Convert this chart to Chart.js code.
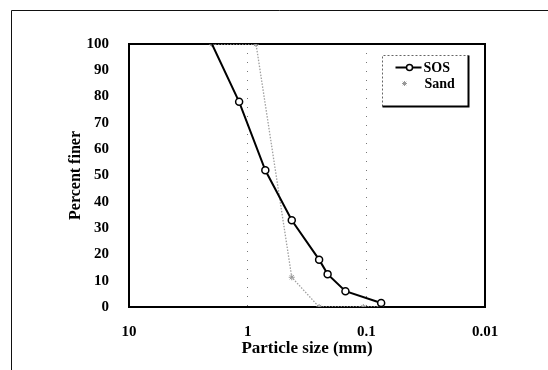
<!DOCTYPE html>
<html>
<head>
<meta charset="utf-8">
<script src="https://cdn.jsdelivr.net/npm/chart.js@4/dist/chart.umd.min.js"></script>
<style>
  html, body { margin: 0; padding: 0; background: #fff; }
  #wrap { width: 548px; height: 370px; position: relative; }
</style>
</head>
<body>
<div id="wrap"><canvas id="chart" width="548" height="370"></canvas></div>
<script>
// Grain size distribution: sieve opening (mm) vs. percent passing
const sosSize   = [2.0, 1.18, 0.71, 0.425, 0.25, 0.212, 0.15, 0.075];
const sosFiner  = [100, 78, 52, 33, 18, 12.5, 6, 1.5];
const sandSize  = [2.0, 0.85, 0.425, 0.25, 0.106, 0.075];
const sandFiner = [100, 100, 11.3, 0, 0, 0];
const xTickValues = [10, 1, 0.1, 0.01];
const yTickStep = 10;
const seriesNames = ['SOS', 'Sand'];

const FONT = '"Liberation Serif", "Times New Roman", serif';

const toPoints = (xs, ys) => xs.map((x, i) => ({ x: x, y: ys[i] }));

// small marker helpers shared by the legend
function drawCircleMarker(ctx, x, y, r, stroke, fill, lw) {
  ctx.beginPath();
  ctx.arc(x, y, r, 0, Math.PI * 2);
  ctx.fillStyle = fill;
  ctx.fill();
  ctx.lineWidth = lw;
  ctx.strokeStyle = stroke;
  ctx.stroke();
}
function drawStarMarker(ctx, x, y, r, stroke, lw) {
  ctx.beginPath();
  for (let k = 0; k < 4; k++) {
    const ang = k * Math.PI / 4;
    ctx.moveTo(x + r * Math.cos(ang), y + r * Math.sin(ang));
    ctx.lineTo(x - r * Math.cos(ang), y - r * Math.sin(ang));
  }
  ctx.lineWidth = lw;
  ctx.strokeStyle = stroke;
  ctx.stroke();
}

// Plot frame and the page's outer frame
const framePlugin = {
  id: 'frame',
  beforeDraw(chart) {
    const ctx = chart.ctx;
    ctx.save();
    ctx.strokeStyle = '#111';
    ctx.lineWidth = 1;
    ctx.beginPath();
    ctx.moveTo(11.5, 370);
    ctx.lineTo(11.5, 10.5);
    ctx.lineTo(548, 10.5);
    ctx.stroke();
    ctx.restore();
  },
  beforeDatasetsDraw(chart) {
    const a = chart.chartArea;
    const ctx = chart.ctx;
    ctx.save();
    ctx.strokeStyle = '#000';
    ctx.lineWidth = 2;
    ctx.strokeRect(a.left, a.top, a.right - a.left, a.bottom - a.top);
    ctx.restore();
  }
};

// Boxed legend with a drop shadow on the right and bottom edges
const legendBoxPlugin = {
  id: 'legendBox',
  afterDraw(chart) {
    const ctx = chart.ctx;
    const a = chart.chartArea;
    const w = 86, h = 51;
    const x0 = Math.round(a.right - 103) + 0.5, y0 = Math.round(a.top + 11) + 0.5;
    ctx.save();
    ctx.fillStyle = '#fff';
    ctx.fillRect(x0, y0, w, h);
    ctx.strokeStyle = '#666';
    ctx.lineWidth = 1;
    ctx.setLineDash([2, 2]);
    ctx.beginPath();
    ctx.moveTo(x0, y0 + h);
    ctx.lineTo(x0, y0);
    ctx.lineTo(x0 + w, y0);
    ctx.stroke();
    ctx.setLineDash([]);
    ctx.strokeStyle = '#000';
    ctx.lineWidth = 2;
    ctx.beginPath();
    ctx.moveTo(x0 + w, y0);
    ctx.lineTo(x0 + w, y0 + h);
    ctx.lineTo(x0, y0 + h);
    ctx.stroke();

    const ds = chart.data.datasets;
    const y1 = y0 + 12, y2 = y0 + 28;
    // SOS row: line with circle
    ctx.strokeStyle = ds[0].borderColor;
    ctx.lineWidth = ds[0].borderWidth;
    ctx.beginPath();
    ctx.moveTo(x0 + 13, y1);
    ctx.lineTo(x0 + 39, y1);
    ctx.stroke();
    drawCircleMarker(ctx, x0 + 27, y1, 3, '#000', '#fff', 1.5);
    // Sand row: marker only
    drawStarMarker(ctx, x0 + 22, y2, 2.5, ds[1].pointBorderColor, 1);

    ctx.fillStyle = '#000';
    ctx.font = 'bold 14px ' + FONT;
    ctx.textBaseline = 'middle';
    ctx.textAlign = 'left';
    ctx.fillText(ds[0].label, x0 + 41, y1 + 1);
    ctx.fillText(ds[1].label, x0 + 42, y2 + 1);
    ctx.restore();
  }
};

const chart = new Chart(document.getElementById('chart'), {
  type: 'line',
  data: {
    datasets: [
      {
        label: seriesNames[0],
        data: toPoints(sosSize, sosFiner),
        borderColor: '#000',
        borderWidth: 2,
        pointStyle: 'circle',
        pointRadius: c => (c.dataIndex === 0 ? 0 : 3.5),
        pointBorderWidth: 1.5,
        pointBorderColor: '#000',
        pointBackgroundColor: '#fff',
        tension: 0
      },
      {
        label: seriesNames[1],
        data: toPoints(sandSize, sandFiner),
        borderColor: '#a0a0a0',
        borderWidth: 1.3,
        borderDash: [1.5, 1.5],
        pointStyle: 'star',
        pointRadius: 3,
        pointBorderWidth: 1,
        pointBorderColor: '#999',
        pointBackgroundColor: '#fff',
        tension: 0
      }
    ]
  },
  options: {
    responsive: false,
    animation: false,
    devicePixelRatio: 1,
    layout: { padding: { left: 60, top: 44, right: 63, bottom: 11 } },
    plugins: {
      legend: { display: false },
      tooltip: { enabled: false }
    },
    scales: {
      x: {
        type: 'logarithmic',
        reverse: true,
        min: 0.01,
        max: 10,
        afterBuildTicks(axis) { axis.ticks = xTickValues.map(v => ({ value: v })); },
        afterFit(axis) { axis.height = 52; },
        ticks: {
          autoSkip: false,
          maxRotation: 0,
          padding: 16,
          color: '#000',
          font: { family: FONT, size: 15, weight: 'bold' },
          callback: v => String(v)
        },
        grid: { color: '#777', lineWidth: 1, drawTicks: false },
        border: { display: false, dash: [1, 8] },
        title: {
          display: true,
          text: 'Particle size (mm)',
          color: '#000',
          font: { family: FONT, size: 17, weight: 'bold' },
          padding: { top: 0, bottom: 0 }
        }
      },
      y: {
        min: 0,
        max: 100,
        afterFit(axis) { axis.width = 69; },
        ticks: {
          stepSize: yTickStep,
          padding: 20,
          color: '#000',
          font: { family: FONT, size: 15, weight: 'bold' }
        },
        grid: { display: false, drawTicks: false },
        border: { display: false },
        title: {
          display: true,
          text: 'Percent finer',
          color: '#000',
          font: { family: FONT, size: 16, weight: 'bold' },
          padding: { top: 6, bottom: 0 }
        }
      }
    }
  },
  plugins: [framePlugin, legendBoxPlugin]
});
</script>
</body>
</html>
